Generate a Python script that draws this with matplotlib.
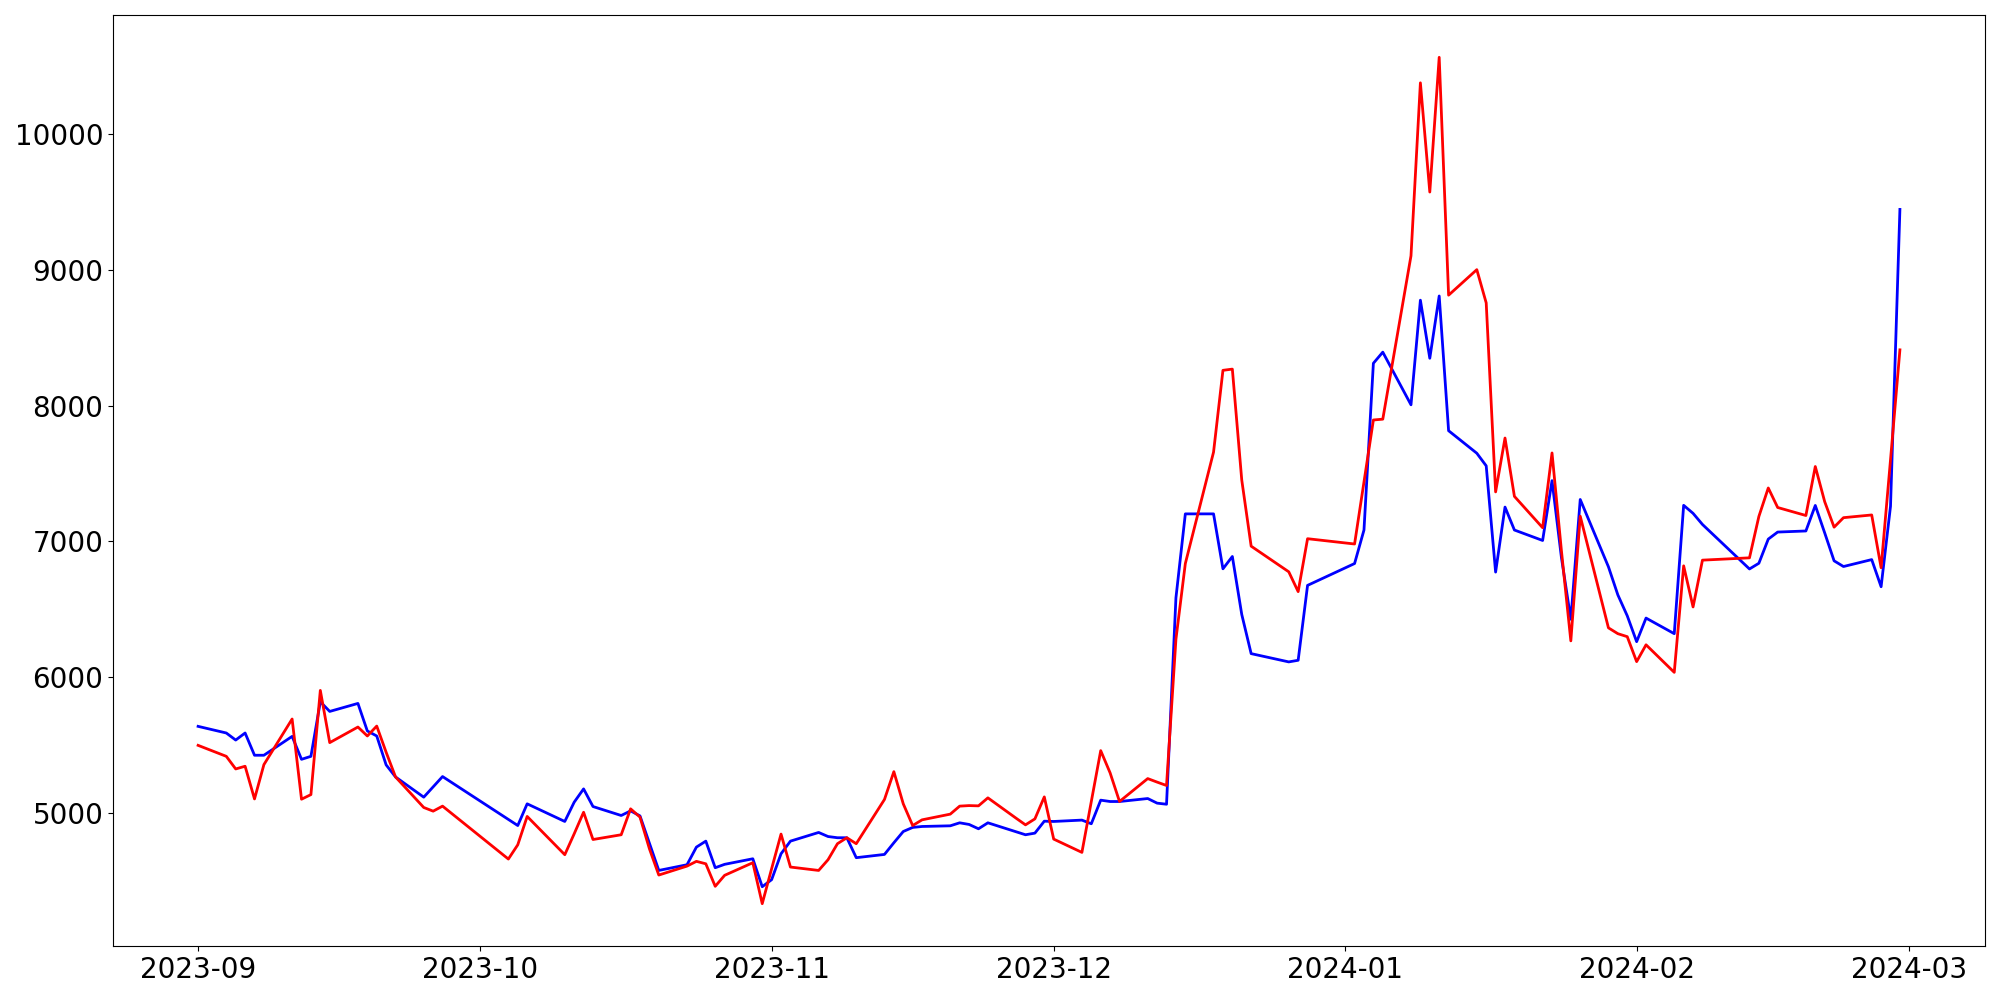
import numpy as np
import pandas as pd
import matplotlib
matplotlib.use("Agg")
import matplotlib.pyplot as plt

# trading days (KRX calendar), Sep 2023 - Feb 2024
holidays = ["2023-09-28", "2023-09-29", "2023-10-02", "2023-10-03", "2023-10-09",
            "2023-12-25", "2023-12-29", "2024-01-01", "2024-02-09", "2024-02-12"]
dates = pd.bdate_range("2023-09-01", "2024-02-29")
dates = dates[~dates.isin(pd.to_datetime(holidays))]

red_sep = [5496, 5415, 5322, 5342, 5101, 5354, 5690, 5099, 5133, 5901, 5516,
           5631, 5565, 5638, 5445, 5263, 5038, 5011, 5048]
red_oct = [4658, 4763, 4972, 4690, 4844, 5003, 4802, 4837, 5028, 4967, 4734,
           4540, 4606, 4641, 4623, 4457, 4538, 4631, 4329]
red_nov = [4587, 4842, 4599, 4574, 4653, 4771, 4815, 4771, 5097, 5302, 5065,
           4905, 4947, 4989, 5048, 5052, 5050, 5109, 4959, 4910, 4954, 5116]
red_dec = [4805, 4707, 5082, 5457, 5293, 5082, 5251, 5225, 5200, 6278, 6836,
           7657, 8260, 8269, 7452, 6964, 6775, 6629, 7019]
red_jan = [6980, 7437, 7894, 7900, 9104, 10379, 9574, 10567, 8814, 9002, 8757,
           7364, 7761, 7331, 7100, 7651, 6930, 6266, 7185, 6362, 6319, 6297]
red_feb = [6113, 6237, 6034, 6819, 6516, 6861, 6878, 7183, 7393, 7249, 7190,
           7551, 7292, 7104, 7174, 7194, 6805, 7600, 8411]

blue_sep = [5636, 5587, 5535, 5587, 5423, 5423, 5562, 5393, 5415, 5817, 5746,
            5805, 5602, 5565, 5352, 5263, 5114, 5190, 5266]
blue_oct = [4950, 4905, 5065, 4935, 5077, 5175, 5045, 4979, 5013, 4976, 4775,
            4574, 4616, 4746, 4790, 4594, 4619, 4660, 4454]
blue_nov = [4506, 4697, 4790, 4854, 4824, 4815, 4815, 4668, 4692, 4778, 4861,
            4891, 4898, 4903, 4925, 4913, 4881, 4925, 4859, 4837, 4849, 4937]
blue_dec = [4935, 4945, 4918, 5092, 5082, 5082, 5104, 5070, 5062, 6583, 7202,
            7202, 6797, 6888, 6461, 6172, 6111, 6123, 6675]
blue_jan = [6836, 7083, 8312, 8394, 8006, 8777, 8349, 8808, 7815, 7649, 7556,
            6773, 7252, 7083, 7006, 7447, 6880, 6425, 7308, 6812, 6605, 6451]
blue_feb = [6260, 6434, 6319, 7265, 7206, 7124, 6796, 6838, 7016, 7068, 7076,
            7264, 7062, 6856, 6814, 6865, 6665, 7258, 9446]

red = red_sep + red_oct + red_nov + red_dec + red_jan + red_feb
blue = blue_sep + blue_oct + blue_nov + blue_dec + blue_jan + blue_feb

fig, ax = plt.subplots(figsize=(20, 10), dpi=100)
ax.plot(dates, blue, color="blue", lw=2)
ax.plot(dates, red, color="red", lw=2)
ax.tick_params(labelsize=20)
plt.subplots_adjust(left=0.0565, right=0.9925, top=0.985, bottom=0.054)
plt.savefig("out.png")
